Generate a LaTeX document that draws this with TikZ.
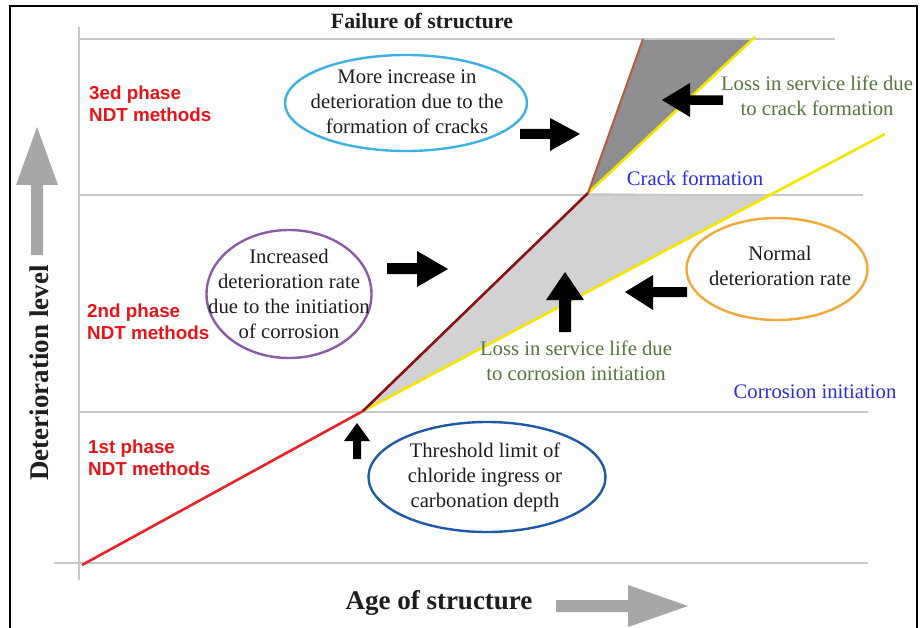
\documentclass[tikz,border=0pt]{standalone}
\usepackage{fontspec}
\setmainfont{Liberation Serif}
\setsansfont{Liberation Sans}
\usetikzlibrary{calc,shapes.geometric}
\definecolor{gridgray}{HTML}{C8C8C8}
\definecolor{arrgray}{HTML}{A7A7A9}
\definecolor{lightfill}{HTML}{D2D2D4}
\definecolor{darkfill}{HTML}{8E8E90}
\definecolor{ndtred}{HTML}{E8141B}
\definecolor{linered}{HTML}{E8242A}
\definecolor{darkred}{HTML}{8B1212}
\definecolor{brownred}{HTML}{B85A40}
\definecolor{ylw}{HTML}{F5E600}
\definecolor{olivegreen}{HTML}{56773A}
\definecolor{lblue}{HTML}{2B2BE8}
\definecolor{txtblack}{HTML}{1E1E1E}
\definecolor{ecyan}{HTML}{3DB2E2}
\definecolor{epurple}{HTML}{8A5CA8}
\definecolor{eorange}{HTML}{F2A93A}
\definecolor{eblue}{HTML}{1F5AA6}
\newcommand\myfs[2]{\fontsize{#1}{#2}\selectfont}
\begin{document}
\begin{tikzpicture}[x=1pt,y=-1pt,
  gridline/.style={draw=gridgray,line width=1.8pt},
  ellbox/.style={draw=#1,line width=2.4pt,ellipse,inner sep=0pt,fill=white},
  stxt/.style={font=\myfs{20.7}{25},text=txtblack,align=center,inner sep=0pt},
  ndt/.style={font=\sffamily\bfseries\myfs{18.8}{22},text=ndtred,align=left,anchor=west,inner sep=0pt},
  greentxt/.style={stxt,text=olivegreen},
  bluetxt/.style={stxt,text=lblue},
  blockarr/.style={fill=black},
  grayarr/.style={fill=arrgray}]
\useasboundingbox (0,0) rectangle (920,628);
\fill[white] (0,0) rectangle (920,628);
% key points
\coordinate (P0) at (82,565);
\coordinate (P1) at (363,411);
\coordinate (P2) at (588,193);
\coordinate (P3) at (643,39);
\coordinate (Y1) at (885,134);
\coordinate (Y2) at (755,37);
% fills
\fill[lightfill] (P1) -- (P2) -- ($(P1)!0.78!(Y1)$) -- cycle;
\fill[darkfill] (P2) -- (P3) -- ($(P2)!0.987!(Y2)$) -- cycle;
% grid
\coordinate (ax0) at (79,27); \coordinate (ax1) at (79,580);
\draw[gridline] (ax0) -- (ax1);
\coordinate (g1a) at (79,39);  \coordinate (g1b) at (835,39);
\coordinate (g2a) at (79,195); \coordinate (g2b) at (863,195);
\coordinate (g3a) at (79,412); \coordinate (g3b) at (868,412);
\coordinate (g4a) at (54,563); \coordinate (g4b) at (868,563);
\draw[gridline] (g1a) -- (g1b);
\draw[gridline] (g2a) -- (g2b);
\draw[gridline] (g3a) -- (g3b);
\draw[gridline] (g4a) -- (g4b);
% curves
\draw[ylw,line width=2.6pt] (P1) -- (Y1);
\draw[ylw,line width=2.6pt] (P2) -- (Y2);
\draw[linered,line width=2.6pt] (P0) -- (P1);
\draw[darkred,line width=2.6pt] (P1) -- (P2);
\draw[brownred,line width=2pt] (P2) -- (P3);
% border
\draw[black,line width=2pt] (10,628) -- (10,6) -- (917,6) -- (917,628);
% titles
\node[font=\bfseries\myfs{21.8}{25},text=txtblack,inner sep=0pt] (fail) at (422,21) {Failure of structure};
\node[font=\bfseries\myfs{27}{30},text=txtblack,inner sep=0pt] (age) at (439,603) {Age of structure};
\node[font=\bfseries\myfs{27}{30},text=txtblack,inner sep=0pt,rotate=90] (det) at (39,373) {Deterioration level};
% gray arrows
\fill[grayarr] (31,255) -- (31,185) -- (16,185) -- (37,127) -- (58,185) -- (43,185) -- (43,255) -- cycle;
\fill[grayarr] (556,600) -- (628,600) -- (628,585) -- (688,606) -- (628,627) -- (628,612) -- (556,612) -- cycle;
% NDT labels
\node[ndt] (ph3) at (89,104) {3ed phase\\NDT methods};
\node[ndt] (ph2) at (87,322) {2nd phase\\NDT methods};
\node[ndt] (ph1) at (88,457.5) {1st phase\\NDT methods};
% ellipses
\node[ellbox=ecyan,minimum width=242pt,minimum height=96pt] (e1) at (406,103) {};
\node[stxt] (t1) at (407,102) {More increase in\\deterioration due to the\\formation of cracks};
\node[ellbox=epurple,minimum width=165pt,minimum height=128pt] (e2) at (289,294) {};
\node[stxt] (t2) at (289,293.5) {Increased\\deterioration rate\\due to the initiation\\of corrosion};
\node[ellbox=eorange,minimum width=181pt,minimum height=102pt] (e3) at (777,269) {};
\node[stxt] (t3) at (780,265.5) {Normal\\deterioration rate};
\node[ellbox=eblue,minimum width=237pt,minimum height=110pt] (e4) at (487,477) {};
\node[stxt] (t4) at (485,477.5) {Threshold limit of\\chloride ingress or\\carbonation depth};
% other labels
\node[greentxt] (l1) at (817,95.5) {Loss in service life due\\to crack formation};
\node[greentxt] (l2) at (576,360.5) {Loss in service life due\\to corrosion initiation};
\node[bluetxt] (b1) at (695,178) {Crack formation};
\node[bluetxt] (b2) at (815,392) {Corrosion initiation};
% black block arrows
\fill[blockarr] (520,129) -- (550,129) -- (550,118) -- (580,134) -- (550,151) -- (550,139) -- (520,139) -- cycle;
\fill[blockarr] (723,95.5) -- (690,95.5) -- (690,83) -- (662,100) -- (690,117) -- (690,105) -- (723,105) -- cycle;
\fill[blockarr] (387,263) -- (417,263) -- (417,251) -- (448,269) -- (417,287) -- (417,274) -- (387,274) -- cycle;
\fill[blockarr] (559,332) -- (559,300) -- (546,300) -- (565,272) -- (584,300) -- (571,300) -- (571,332) -- cycle;
\fill[blockarr] (687,287) -- (653,287) -- (653,275) -- (625,292) -- (653,310) -- (653,297) -- (687,297) -- cycle;
\fill[blockarr] (353,459) -- (353,441) -- (344,441) -- (357,423) -- (370,441) -- (361,441) -- (361,459) -- cycle;
\end{tikzpicture}
\end{document}
